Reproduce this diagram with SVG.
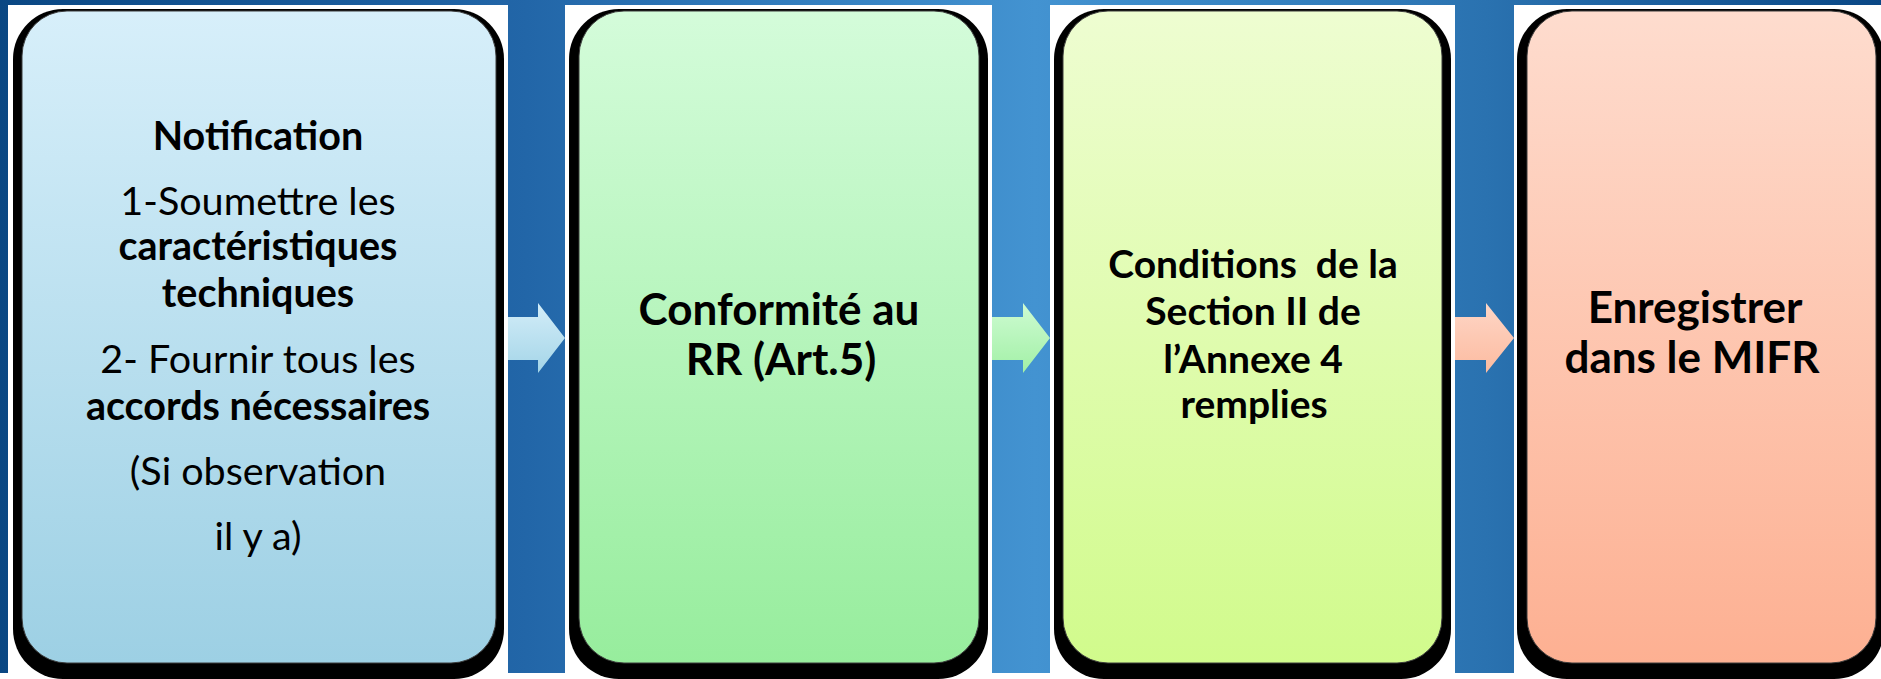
<svg xmlns="http://www.w3.org/2000/svg" width="1881" height="679" viewBox="0 0 1881 679">
  <defs>
    <linearGradient id="bg" x1="0" y1="0" x2="1" y2="0">
      <stop offset="0" stop-color="#0a4783"/>
      <stop offset="0.28" stop-color="#2266a8"/>
      <stop offset="0.55" stop-color="#4393d1"/>
      <stop offset="0.79" stop-color="#2a72b0"/>
      <stop offset="1" stop-color="#0a4785"/>
    </linearGradient>
    <linearGradient id="g1" x1="0" y1="0" x2="0" y2="1">
      <stop offset="0" stop-color="#d7effa"/>
      <stop offset="1" stop-color="#9dd0e4"/>
    </linearGradient>
    <linearGradient id="g2" x1="0" y1="0" x2="0" y2="1">
      <stop offset="0" stop-color="#d4fcda"/>
      <stop offset="1" stop-color="#97ed9d"/>
    </linearGradient>
    <linearGradient id="g3" x1="0" y1="0" x2="0" y2="1">
      <stop offset="0" stop-color="#eefdd1"/>
      <stop offset="1" stop-color="#d1fb8c"/>
    </linearGradient>
    <linearGradient id="g4" x1="0" y1="0" x2="0" y2="1">
      <stop offset="0" stop-color="#fedcce"/>
      <stop offset="1" stop-color="#fdb092"/>
    </linearGradient>
    <linearGradient id="a1" x1="0" y1="0" x2="0" y2="1">
      <stop offset="0" stop-color="#d3edf8"/>
      <stop offset="1" stop-color="#a4d5e8"/>
    </linearGradient>
    <linearGradient id="a2" x1="0" y1="0" x2="0" y2="1">
      <stop offset="0" stop-color="#cefbd2"/>
      <stop offset="1" stop-color="#a2f0a6"/>
    </linearGradient>
    <linearGradient id="a3" x1="0" y1="0" x2="0" y2="1">
      <stop offset="0" stop-color="#fed6c6"/>
      <stop offset="1" stop-color="#fcbba0"/>
    </linearGradient>
    <style>
      .frame { fill: #ffffff; }
      .shadow { fill: #000000; }
      .face { stroke: #3a3a3a; stroke-width: 1; }
      text { font-family: Lato, "Open Sans", sans-serif; fill: #000000; text-anchor: middle; }
      .b { font-weight: bold; }
      .t1 { font-size: 39.5px; }
      .t2 { font-size: 44px; font-weight: bold; }
      .t3 { font-size: 39px; font-weight: bold; }
      .t4 { font-size: 44px; font-weight: bold; }
    </style>
  </defs>

  <rect x="0" y="0" width="1881" height="679" fill="#ffffff"/>
  <rect id="background" x="0" y="0" width="1881" height="673" fill="url(#bg)"/>

  <g id="node-1">
    <rect class="frame" x="8" y="5" width="500" height="674"/>
    <rect class="shadow" x="13" y="9" width="491" height="670" rx="50" ry="50"/>
    <rect class="face" x="22" y="11" width="474" height="652" rx="45" ry="45" fill="url(#g1)"/>
    <text class="t1 b" x="258" y="150">Notification</text>
    <text class="t1" x="258" y="215">1-Soumettre les</text>
    <text class="t1 b" x="258" y="260">caractéristiques</text>
    <text class="t1 b" x="258" y="307">techniques</text>
    <text class="t1" x="258" y="373">2- Fournir tous les</text>
    <text class="t1 b" x="258" y="420">accords nécessaires</text>
    <text class="t1" x="258" y="485">(Si observation</text>
    <text class="t1" x="258" y="550">il y a)</text>
  </g>

  <g id="node-2">
    <rect class="frame" x="565" y="5" width="427" height="674"/>
    <rect class="shadow" x="569" y="9" width="419" height="670" rx="50" ry="50"/>
    <rect class="face" x="579" y="11" width="400" height="652" rx="45" ry="45" fill="url(#g2)"/>
    <text class="t2" x="779" y="325">Conformité au</text>
    <text class="t2" x="781" y="375">RR (Art.5)</text>
  </g>

  <g id="node-3">
    <rect class="frame" x="1050" y="5" width="405" height="674"/>
    <rect class="shadow" x="1054" y="9" width="397" height="670" rx="50" ry="50"/>
    <rect class="face" x="1063" y="11" width="379" height="652" rx="45" ry="45" fill="url(#g3)"/>
    <text class="t3" x="1253" y="278" xml:space="preserve">Conditions  de la</text>
    <text class="t3" x="1253" y="325">Section II de</text>
    <text class="t3" x="1253" y="373">l’Annexe 4</text>
    <text class="t3" x="1254" y="418">remplies</text>
  </g>

  <g id="node-4">
    <rect class="frame" x="1514" y="5" width="380" height="674"/>
    <rect class="shadow" x="1517" y="9" width="367" height="670" rx="50" ry="50"/>
    <rect class="face" x="1527" y="11" width="349" height="652" rx="45" ry="45" fill="url(#g4)"/>
    <text class="t4" x="1695" y="323">Enregistrer</text>
    <text class="t4" x="1692" y="373">dans le MIFR</text>
  </g>

  <g id="connectors">
    <polygon points="508,317 538,317 538,303 565,338 538,373 538,360 508,360" fill="url(#a1)"/>
    <polygon points="992,317 1023,317 1023,303 1050,338 1023,373 1023,360 992,360" fill="url(#a2)"/>
    <polygon points="1455,317 1486,317 1486,303 1514,338 1486,373 1486,360 1455,360" fill="url(#a3)"/>
  </g>
</svg>
